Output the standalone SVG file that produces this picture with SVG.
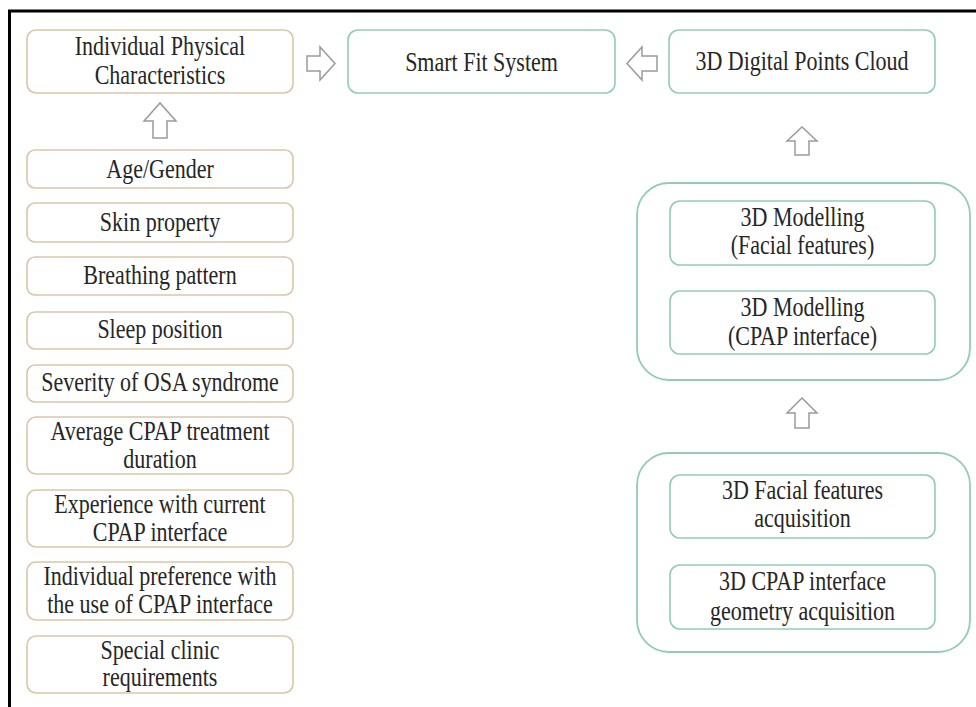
<svg xmlns="http://www.w3.org/2000/svg" width="976" height="707" viewBox="0 0 976 707">
<style>
.tan{fill:#fff;stroke:#d9c6aa;stroke-width:1.6}
.teal{fill:#fff;stroke:#93cbb9;stroke-width:1.6}
.outer{fill:none;stroke:#93cbb9;stroke-width:1.8}
.arr{fill:#fff;stroke:#9a9a9a;stroke-width:1.5;stroke-linejoin:miter}
text{font-family:"Liberation Serif","Times New Roman",serif;font-size:22px;fill:#262626;text-anchor:middle}
</style>
<rect width="976" height="707" fill="#fff"/>
<path d="M9.5,707 V11 H976" fill="none" stroke="#000" stroke-width="3"/>

<g id="connectors">
<path class="arr" d="M307,56 H320 V47 L335,63.5 L320,80 V71 H307 Z"/>
<path class="arr" d="M657,56 H642 V47 L627,63.5 L642,80 V71 H657 Z"/>
<path class="arr" d="M153,138 V121 H144 L160,103 L176,121 H167 V138 Z"/>
<path class="arr" d="M795,155 V141 H787 L802,127 L817,141 H809 V155 Z"/>
<path class="arr" d="M795,428 V413 H787 L802,398 L817,413 H809 V428 Z"/>
</g>

<g id="individual">
<rect class="tan" x="27" y="30" width="266" height="63" rx="9"/>
<text transform="translate(160,55) scale(1,1.25)">Individual  Physical</text>
<text transform="translate(160,84) scale(1,1.25)">Characteristics</text>
</g>
<g id="age">
<rect class="tan" x="27" y="150" width="266" height="38" rx="8"/>
<text transform="translate(160,178) scale(1,1.25)">Age/Gender</text>
</g>
<g id="skin">
<rect class="tan" x="27" y="203" width="266" height="39" rx="8"/>
<text transform="translate(160,231) scale(1,1.25)">Skin property</text>
</g>
<g id="breathing">
<rect class="tan" x="27" y="257" width="266" height="38" rx="8"/>
<text transform="translate(160,284) scale(1,1.25)">Breathing pattern</text>
</g>
<g id="sleep">
<rect class="tan" x="27" y="312" width="266" height="37" rx="8"/>
<text transform="translate(160,338) scale(1,1.25)">Sleep position</text>
</g>
<g id="severity">
<rect class="tan" x="27" y="365" width="266" height="37" rx="8"/>
<text transform="translate(160,391) scale(1,1.25)">Severity of OSA syndrome</text>
</g>
<g id="average">
<rect class="tan" x="27" y="417" width="266" height="57" rx="9"/>
<text transform="translate(160,440) scale(1,1.25)">Average CPAP treatment</text>
<text transform="translate(160,468) scale(1,1.25)">duration</text>
</g>
<g id="experience">
<rect class="tan" x="27" y="490" width="266" height="57" rx="9"/>
<text transform="translate(160,513) scale(1,1.25)">Experience with current</text>
<text transform="translate(160,541) scale(1,1.25)">CPAP interface</text>
</g>
<g id="preference">
<rect class="tan" x="27" y="562" width="266" height="58" rx="9"/>
<text transform="translate(160,585) scale(1,1.25)">Individual preference with</text>
<text transform="translate(160,613) scale(1,1.25)">the use of CPAP interface</text>
</g>
<g id="special">
<rect class="tan" x="27" y="636" width="266" height="57" rx="9"/>
<text transform="translate(160,659) scale(1,1.25)">Special clinic</text>
<text transform="translate(160,686) scale(1,1.25)">requirements</text>
</g>

<g id="smartfit">
<rect class="teal" x="348" y="30" width="267" height="63" rx="10"/>
<text transform="translate(481.5,71) scale(1,1.25)">Smart Fit System</text>
</g>
<g id="pointscloud">
<rect class="teal" x="669" y="30" width="266" height="63" rx="10"/>
<text transform="translate(802,70) scale(1,1.25)">3D Digital  Points Cloud</text>
</g>

<g id="modelling-group">
<rect class="outer" x="637" y="183" width="333" height="197" rx="32"/>
</g>
<g id="modelling-facial">
<rect class="teal" x="670" y="201" width="265" height="64" rx="10"/>
<text transform="translate(802.5,226) scale(1,1.25)">3D Modelling</text>
<text transform="translate(802.5,254) scale(1,1.25)">(Facial features)</text>
</g>
<g id="modelling-cpap">
<rect class="teal" x="670" y="291" width="265" height="63" rx="10"/>
<text transform="translate(802.5,316) scale(1,1.25)">3D Modelling</text>
<text transform="translate(802.5,345) scale(1,1.25)">(CPAP interface)</text>
</g>

<g id="acquisition-group">
<rect class="outer" x="637" y="453" width="333" height="199" rx="32"/>
</g>
<g id="facial-acq">
<rect class="teal" x="670" y="475" width="265" height="63" rx="10"/>
<text transform="translate(802.5,499) scale(1,1.25)">3D Facial features</text>
<text transform="translate(802.5,527) scale(1,1.25)">acquisition</text>
</g>
<g id="cpap-acq">
<rect class="teal" x="670" y="565" width="265" height="64" rx="10"/>
<text transform="translate(802.5,590) scale(1,1.25)">3D CPAP interface</text>
<text transform="translate(802.5,620) scale(1,1.25)">geometry acquisition</text>
</g>
</svg>
